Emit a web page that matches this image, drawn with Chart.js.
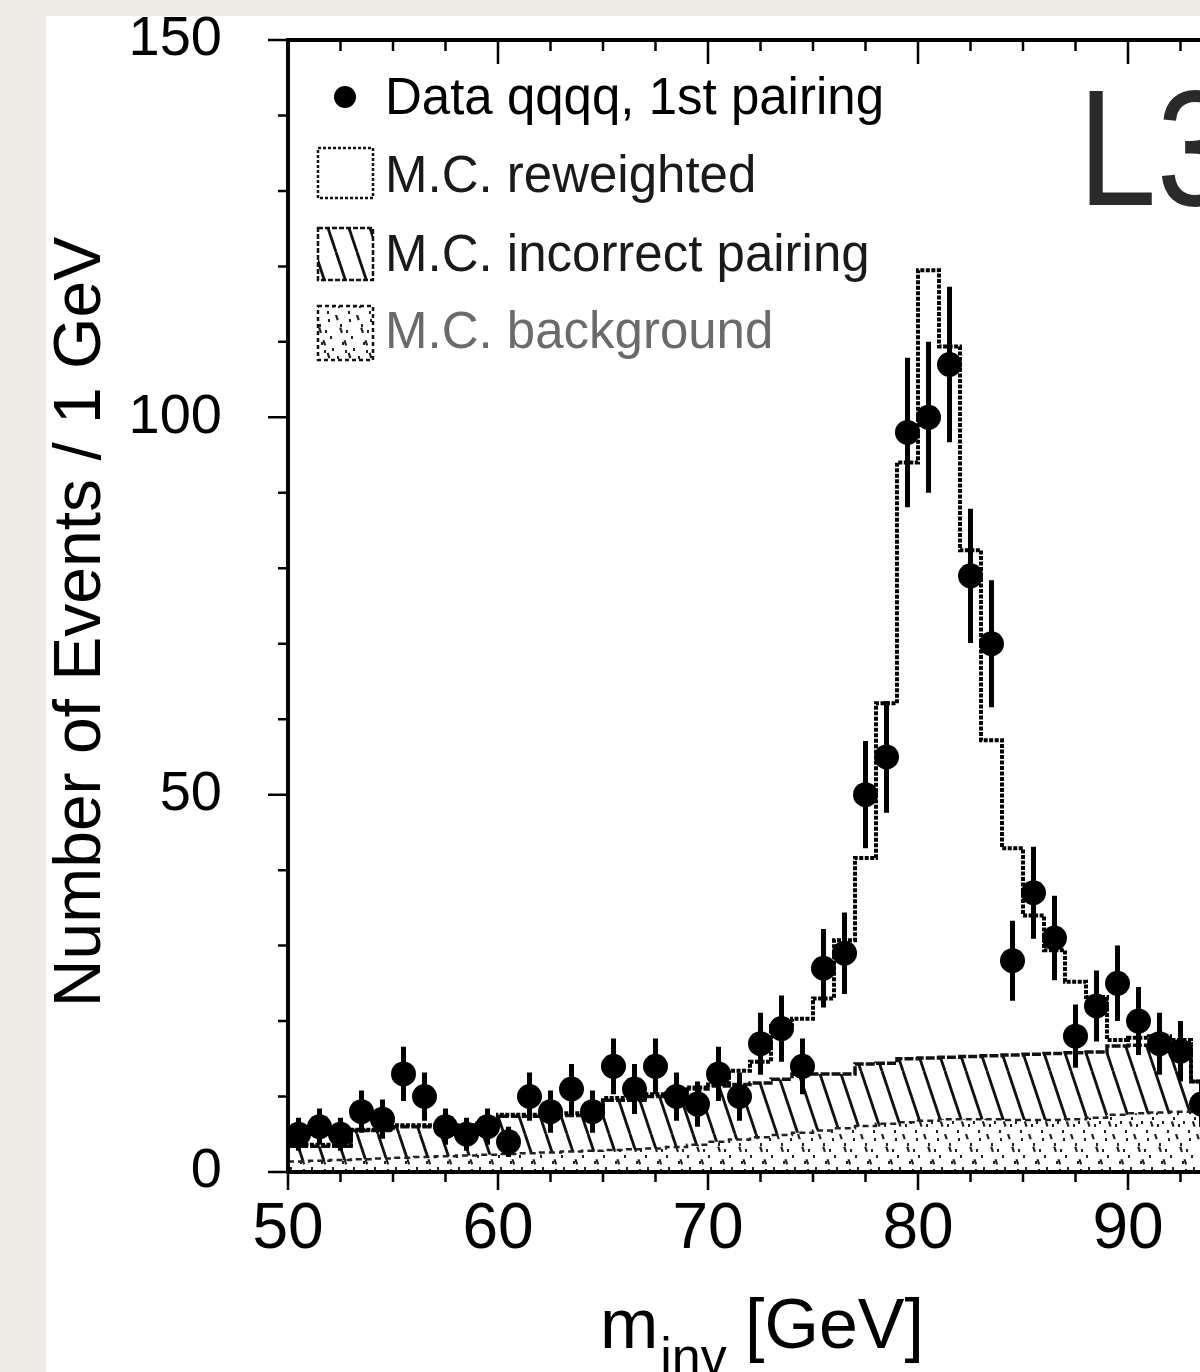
<!DOCTYPE html>
<html>
<head>
<meta charset="utf-8">
<title>L3 qqqq invariant mass</title>
<script src="https://cdn.jsdelivr.net/npm/chart.js@4.4.1/dist/chart.umd.min.js"></script>
<style>
  html, body { margin: 0; padding: 0; width: 1200px; height: 1372px; overflow: hidden; background: #eeebe6; }
  #sheet { position: absolute; left: 46px; top: 16px; width: 1154px; height: 1356px; background: #fff; }
  #wrap { position: absolute; left: 0; top: 0; width: 1400px; height: 1372px; }
</style>
</head>
<body>
<div id="sheet"></div>
<div id="wrap"><canvas id="massChart" width="1400" height="1372"></canvas></div>
<script>
  // Setup Block
  // 1 GeV bins, low edges
  const binLow = [50, 51, 52, 53, 54, 55, 56, 57, 58, 59,
                  60, 61, 62, 63, 64, 65, 66, 67, 68, 69,
                  70, 71, 72, 73, 74, 75, 76, 77, 78, 79,
                  80, 81, 82, 83, 84, 85, 86, 87, 88, 89,
                  90, 91, 92, 93];
  const binEnd = 94;

  const mcReweighted = [3.6, 3.6, 3.6, 5.6, 5.6, 6.2, 6.2, 6.2, 6.2, 6.4,
                        7.6, 7.6, 7.6, 7.8, 8.2, 9.8, 9.8, 10.3, 10.4, 11.2,
                        11.6, 13.4, 14.6, 19.6, 20.3, 23, 30.7, 41.6, 62.1, 94,
                        119.5, 109.4, 82.4, 57.2, 42.9, 34, 29.4, 25.2, 23.2, 17.5,
                        17.8, 18, 17.5, 12];
  const mcIncorrect = [2.0, 1.9, 1.8, 3.8, 3.7, 4.1, 4.0, 3.9, 3.8, 3.8,
                       5.0, 4.9, 4.8, 4.8, 4.8, 6.6, 6.5, 6.9, 6.8, 7.4,
                       7.4, 7.3, 7.2, 7.4, 7.8, 7.5, 7.2, 8.2, 8.0, 8.4,
                       8.3, 8.2, 8.3, 8.4, 8.6, 8.7, 8.8, 8.8, 8.7, 9.1,
                       9.0, 9.0, 9.0, 4.0];
  const mcBackground = [1.4, 1.5, 1.6, 1.7, 1.8, 1.9, 2.0, 2.1, 2.2, 2.3,
                        2.4, 2.5, 2.6, 2.7, 2.8, 2.9, 3.0, 3.1, 3.3, 3.6,
                        4.0, 4.3, 4.6, 4.9, 5.2, 5.5, 5.8, 6.1, 6.4, 6.6,
                        6.8, 7.0, 7.0, 7.0, 6.9, 6.9, 6.9, 7.0, 7.2, 7.6,
                        7.8, 7.9, 8.0, 8.0];

  // data points (bin centres)
  const dataMass = [50.5, 51.5, 52.5, 53.5, 54.5, 55.5, 56.5, 57.5, 58.5, 59.5,
                    60.5, 61.5, 62.5, 63.5, 64.5, 65.5, 66.5, 67.5, 68.5, 69.5,
                    70.5, 71.5, 72.5, 73.5, 74.5, 75.5, 76.5, 77.5, 78.5, 79.5,
                    80.5, 81.5, 82.5, 83.5, 84.5, 85.5, 86.5, 87.5, 88.5, 89.5,
                    90.5, 91.5, 92.5, 93.5];
  const dataEvents = [5, 6, 5, 8, 7, 13, 10, 6, 5, 6,
                      4, 10, 8, 11, 8, 14, 11, 14, 10, 9,
                      13, 10, 17, 19, 14, 27, 29, 50, 55, 98,
                      100, 107, 79, 70, 28, 37, 31, 18, 22, 25,
                      20, 17, 16, 9];
  const dataErr = [2.2, 2.4, 2.2, 2.8, 2.6, 3.6, 3.2, 2.4, 2.2, 2.4,
                   2.0, 3.2, 2.8, 3.3, 2.8, 3.7, 3.3, 3.7, 3.2, 3.0,
                   3.6, 3.2, 4.1, 4.4, 3.7, 5.2, 5.4, 7.1, 7.4, 9.9,
                   10, 10.3, 8.9, 8.4, 5.3, 6.1, 5.6, 4.2, 4.7, 5.0,
                   4.5, 4.1, 4.0, 3.0];

  const xTicks = [50, 60, 70, 80, 90, 100];
  const yTicks = [0, 50, 100, 150];
  const legendLabels = ['Data qqqq, 1st pairing', 'M.C. reweighted', 'M.C. incorrect pairing', 'M.C. background'];
  const xTitle = ['m', 'inv', '[GeV]'];
  const yTitle = 'Number of Events / 1 GeV';

  const FONT = '"Liberation Sans", Arial, Helvetica, sans-serif';

  // histogram -> step line points
  function stepPoints(vals) {
    const pts = binLow.map((x, i) => ({ x: x, y: vals[i] }));
    pts.push({ x: binEnd, y: vals[vals.length - 1] });
    return pts;
  }
  const hatchTop = mcBackground.map((b, i) => b + mcIncorrect[i]);

  // fill patterns
  function diagonals(g, w, h) {
    for (let k = -1; k <= 1; k++) {
      g.beginPath();
      g.moveTo(k * w, 0);
      g.lineTo(k * w + w, h);
      g.stroke();
    }
  }
  function hatchPattern() {
    const c = document.createElement('canvas');
    c.width = 21; c.height = 63;
    const g = c.getContext('2d');
    g.strokeStyle = '#101010';
    g.lineWidth = 2.8;
    diagonals(g, 21, 63);
    return g.createPattern(c, 'repeat');
  }
  function stipplePattern() {
    const c = document.createElement('canvas');
    c.width = 21; c.height = 63;
    const g = c.getContext('2d');
    g.fillStyle = '#fff';
    g.fillRect(0, 0, 21, 63);
    g.strokeStyle = '#222';
    g.lineWidth = 2.2;
    g.setLineDash([5.5, 7.8]);
    diagonals(g, 21, 63);
    g.setLineDash([]);
    g.fillStyle = '#222';
    [[4, 9], [15, 21], [9, 35], [18, 46], [2, 53], [12, 59], [6, 27], [13, 4], [17, 33], [1, 41], [10, 15], [7, 50]]
      .forEach(d => g.fillRect(d[0], d[1], 2, 3));
    return g.createPattern(c, 'repeat');
  }
  const hatch = hatchPattern();
  const stipple = stipplePattern();

  // Plugin - error bars
  const errorBars = {
    id: 'errorBars',
    afterDatasetsDraw(chart) {
      const { ctx, chartArea: a, scales: { x, y } } = chart;
      ctx.save();
      ctx.beginPath();
      ctx.rect(a.left, a.top, a.right - a.left, a.bottom - a.top);
      ctx.clip();
      ctx.strokeStyle = '#000';
      ctx.lineWidth = 5;
      ctx.beginPath();
      dataMass.forEach((m, i) => {
        const px = x.getPixelForValue(m);
        ctx.moveTo(px, y.getPixelForValue(dataEvents[i] - dataErr[i]));
        ctx.lineTo(px, y.getPixelForValue(dataEvents[i] + dataErr[i]));
      });
      ctx.stroke();
      ctx.restore();
    }
  };

  // Plugin - frame and ticks (minor ticks too)
  const frame = {
    id: 'frame',
    afterDatasetsDraw(chart) {
      const { ctx, chartArea: a, scales: { x, y } } = chart;
      ctx.save();
      ctx.strokeStyle = '#000';
      ctx.lineWidth = 4;
      ctx.strokeRect(a.left, a.top, a.right - a.left, a.bottom - a.top);
      ctx.lineWidth = 2.5;
      ctx.beginPath();
      for (let v = 0; v <= 150; v += 10) {
        const py = y.getPixelForValue(v);
        ctx.moveTo(a.left, py);
        ctx.lineTo(a.left - (v % 50 === 0 ? 20 : 10), py);
      }
      for (let v = 50; v <= 100; v += 2.5) {
        const px = x.getPixelForValue(v);
        const major = v % 10 === 0;
        ctx.moveTo(px, a.bottom);
        ctx.lineTo(px, a.bottom + (major ? 18 : 10));
        ctx.moveTo(px, a.top);
        ctx.lineTo(px, a.top + (major ? 24 : 11));
      }
      ctx.stroke();
      ctx.restore();
    }
  };

  // Plugin - legend, titles, L3
  const annotations = {
    id: 'annotations',
    afterDraw(chart) {
      const ctx = chart.ctx;
      ctx.save();
      ctx.fillStyle = '#000';
      ctx.textBaseline = 'alphabetic';

      // y title
      ctx.save();
      ctx.translate(100, 622);
      ctx.rotate(-Math.PI / 2);
      ctx.font = '66px ' + FONT;
      ctx.textAlign = 'center';
      ctx.fillText(yTitle, 0, 0);
      ctx.restore();

      // x title
      ctx.textAlign = 'left';
      ctx.font = '70px ' + FONT;
      ctx.fillText(xTitle[0], 600, 1348);
      const mw = ctx.measureText(xTitle[0]).width;
      ctx.font = '52px ' + FONT;
      ctx.fillText(xTitle[1], 600 + mw + 2, 1374);
      ctx.font = '70px ' + FONT;
      ctx.fillText(xTitle[2], 745, 1348);

      // L3
      ctx.save();
      ctx.translate(1078, 205);
      ctx.scale(0.85, 1);
      ctx.font = '166px ' + FONT;
      ctx.fillStyle = '#2a2a2a';
      ctx.fillText('L3', 0, 0);
      ctx.restore();

      // legend
      ctx.font = '51px ' + FONT;
      ctx.beginPath();
      ctx.arc(345, 97, 11, 0, Math.PI * 2);
      ctx.fill();
      ctx.fillText(legendLabels[0], 385, 114);

      const boxes = [
        { top: 148, h: 50, fill: '#fff', base: 192, color: '#1a1a1a', dash: [3, 2] },
        { top: 228, h: 52, fill: hatch, base: 271, color: '#1a1a1a', dash: [5, 2] },
        { top: 306, h: 54, fill: stipple, base: 348, color: '#6a6a6a', dash: [4, 3] }
      ];
      boxes.forEach((b, i) => {
        ctx.fillStyle = b.fill;
        ctx.fillRect(318, b.top, 55, b.h);
        ctx.setLineDash(b.dash);
        ctx.lineWidth = 2.5;
        ctx.strokeStyle = '#111';
        ctx.strokeRect(318, b.top, 55, b.h);
        ctx.setLineDash([]);
        ctx.fillStyle = b.color;
        ctx.fillText(legendLabels[i + 1], 385, b.base);
      });
      ctx.restore();
    }
  };

  // Config block
  const config = {
    type: 'scatter',
    data: {
      datasets: [
        {
          label: legendLabels[0],
          data: dataMass.map((m, i) => ({ x: m, y: dataEvents[i] })),
          pointRadius: 12.5,
          pointBackgroundColor: '#000',
          pointBorderWidth: 0,
          showLine: false,
          order: 0
        },
        {
          type: 'line',
          label: legendLabels[1],
          data: stepPoints(mcReweighted),
          stepped: 'before',
          borderColor: '#000',
          borderWidth: 4,
          borderDash: [4, 1.5],
          fill: false,
          pointRadius: 0,
          order: 1
        },
        {
          type: 'line',
          label: legendLabels[3],
          data: stepPoints(mcBackground),
          stepped: 'before',
          borderColor: '#222',
          borderWidth: 2.5,
          borderDash: [6, 4],
          fill: 'origin',
          backgroundColor: stipple,
          pointRadius: 0,
          order: 2
        },
        {
          type: 'line',
          label: legendLabels[2],
          data: stepPoints(hatchTop),
          stepped: 'before',
          borderColor: '#111',
          borderWidth: 3.5,
          borderDash: [9, 2],
          fill: 'origin',
          backgroundColor: hatch,
          pointRadius: 0,
          order: 3
        }
      ]
    },
    options: {
      responsive: false,
      animation: false,
      devicePixelRatio: 1,
      layout: { padding: { top: 40, right: 62, left: 0, bottom: 0 } },
      scales: {
        x: {
          type: 'linear',
          min: 50,
          max: 100,
          grid: { display: false, drawTicks: false },
          border: { display: false },
          ticks: {
            stepSize: 10,
            padding: 20,
            color: '#000',
            maxRotation: 0,
            autoSkip: false,
            font: { family: FONT, size: 64 },
            callback: v => xTicks.includes(v) ? String(v) : ''
          },
          afterFit: s => { s.height = 200; s.paddingLeft = 0; s.paddingRight = 0; }
        },
        y: {
          min: 0,
          max: 150,
          grid: { display: false, drawTicks: false },
          border: { display: false },
          ticks: {
            stepSize: 50,
            padding: 66,
            color: '#000',
            font: { family: FONT, size: 56 },
            callback: v => yTicks.includes(v) ? String(v) : ''
          },
          afterFit: s => { s.width = 288; s.paddingTop = 0; s.paddingBottom = 0; }
        }
      },
      plugins: {
        legend: { display: false },
        tooltip: { enabled: false }
      }
    },
    plugins: [errorBars, frame, annotations]
  };

  // render block
  const massChart = new Chart(document.getElementById('massChart'), config);
</script>
</body>
</html>
